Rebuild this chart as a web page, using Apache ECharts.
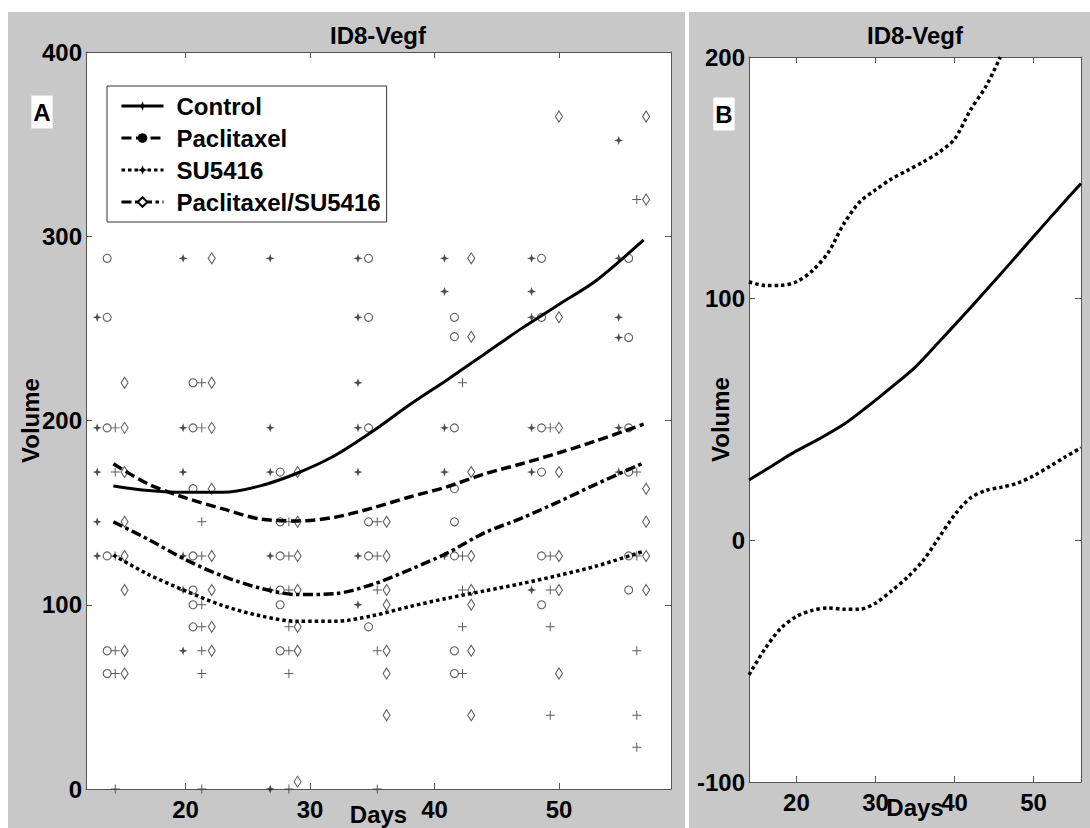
<!DOCTYPE html>
<html><head><meta charset="utf-8">
<script src="https://cdn.jsdelivr.net/npm/echarts@6/dist/echarts.min.js"></script>
<style>
html,body{margin:0;padding:0;background:#fff;}
#wrap{position:relative;width:1090px;height:828px;overflow:hidden;}
.bg{position:absolute;background:#c8c8c8;}
#chart{position:absolute;left:0;top:0;width:1090px;height:828px;}
</style></head>
<body><div id="wrap">
<div class="bg" style="left:8px;top:12px;width:677px;height:816px"></div>
<div class="bg" style="left:689px;top:12px;width:401px;height:816px"></div>
<div id="chart"></div></div>
<script>
// ---------- data ----------
const seriesNames = ['Control', 'Paclitaxel', 'SU5416', 'Paclitaxel/SU5416'];

const controlDays = [12.9, 19.8, 26.8, 33.85, 40.8, 47.8, 54.8];
const controlVolumes = [
  [256, 196, 172, 145, 126.5],
  [288, 196, 172, 126.5, 108, 75],
  [288, 196, 172, 126.5, 108, 0],
  [288, 256, 220.5, 196, 172, 126.5, 100],
  [288, 270, 196, 172, 126.5],
  [288, 270, 256, 196, 172, 108],
  [352, 288, 256, 245, 196, 172]
];
const paclitaxelDays = [13.7, 20.6, 27.6, 34.7, 41.6, 48.6, 55.6];
const paclitaxelVolumes = [
  [288, 256, 196, 126.5, 75, 62.7],
  [220.5, 196, 163, 126.5, 108, 100, 88],
  [172, 145, 126.5, 108, 100, 75],
  [288, 256, 196, 145, 126.5, 88],
  [256, 245.5, 196, 163, 145, 126.5, 75, 62.7],
  [288, 256, 196, 172, 126.5, 100],
  [288, 245, 196, 172, 126.5, 108]
];
const su5416Days = [14.35, 21.3, 28.3, 35.4, 42.25, 49.3, 56.25];
const su5416Volumes = [
  [196, 172, 126.5, 75, 62.7, 0],
  [220.5, 196, 145, 126.5, 100, 88, 75, 62.7, 0],
  [145, 126.5, 108, 88, 75, 62.7, 0],
  [145, 126.5, 108, 75, 0],
  [220.5, 126.5, 108, 88, 62.7],
  [196, 126.5, 108, 88, 40],
  [320, 172, 126.5, 75, 40, 22.6]
];
const comboDays = [15.1, 22.1, 29.0, 36.15, 42.95, 50.0, 57.0];
const comboVolumes = [
  [220.5, 196, 172, 145, 126.5, 108, 75, 62.7],
  [288, 220.5, 196, 163, 126.5, 108, 88, 75],
  [172, 145, 126.5, 108, 88, 75, 4],
  [145, 126.5, 108, 100, 75, 62.7, 40],
  [288, 245.5, 172, 126.5, 108, 100, 75, 40],
  [365, 256, 196, 172, 126.5, 108, 62.7],
  [365, 320, 163, 145, 126.5, 108]
];

// fitted curves, panel A
const fitDaysA     = [14.2, 17, 20, 23, 26, 29, 32, 35, 38, 41, 44, 47, 50, 53, 56.8];
const controlFit   = [164.5, 162, 161, 161, 164.5, 171.5, 181, 194, 208.5, 222, 236, 250, 263, 276, 298];
const paclitaxelFit= [176.5, 165.5, 158, 152, 146.5, 145.5, 147.5, 152.5, 158.5, 164, 171, 176.5, 182.5, 189, 198];
const su5416Fit    = [127, 116.5, 107.5, 99.5, 94, 91, 91, 94, 99, 103.5, 107.5, 111.5, 116, 121, 129];
const comboFit     = [145, 135.5, 124.5, 115.5, 109, 105.5, 106, 111, 119, 128, 139, 147, 156, 165.5, 177];

// panel B
const daysBMean  = [14, 17, 20, 23, 26, 29, 32, 35, 38, 41, 44, 47, 50, 53, 56];
const meanB      = [25, 31, 37, 42.2, 48, 55.4, 63.3, 71.6, 82, 92.6, 103.5, 114.5, 125.7, 136.8, 147.7];
const daysBUpper = [14, 16, 18, 20, 22, 24, 26, 28, 30, 32, 34, 36, 38, 40, 42, 44, 45.8];
const upperB     = [107, 105.5, 105.5, 107, 111.5, 119, 131, 140, 145, 149.5, 153, 156.5, 160.5, 166, 178, 188, 200];
const daysBLower = [14, 16, 18, 20, 22, 24, 26, 28, 30, 32, 34, 36, 38, 40, 42, 44, 46, 48, 50, 52, 54, 56];
const lowerB     = [-55.7, -45, -36.5, -31.5, -29, -28, -28.5, -28.5, -26, -21, -15.4, -8.5, 1, 10.5, 17.5, 20.7, 22, 23.7, 26.7, 30.5, 34.5, 38.3];

const xTicksA = {min: 12, max: 59};
const yTicksA = {min: 0, max: 400, interval: 100};
const xTicksB = {min: 14, max: 56};
const yTicksB = {min: -100, max: 200, interval: 100};

// ---------- build ----------
const FF = "'Liberation Sans', Arial, sans-serif";
const STAR = 'path://M0,-5L1.3,-1.3L5,0L1.3,1.3L0,5L-1.3,1.3L-5,0L-1.3,-1.3Z';
const PLUS = 'path://M-0.55,-5H0.55V-0.55H5V0.55H0.55V5H-0.55V0.55H-5V-0.55H-0.55Z';
const pts = (days, vols) => days.flatMap((d, i) => vols[i].map(v => [d, v]));
const pairs = (xs, ys) => xs.map((x, i) => [x, ys[i]]);

const axLine = {color: '#555', width: 1};
const labelStyle = {fontSize: 24, fontWeight: 'bold', color: '#000', fontFamily: FF};

function xAxes(grid, t, nameGap) {
  return [
    {gridIndex: grid, type: 'value', min: t.min, max: t.max, position: 'bottom',
     axisLine: {show: true, onZero: false, lineStyle: axLine},
     axisTick: {show: true, inside: true, length: 6, lineStyle: axLine},
     splitLine: {show: false},
     axisLabel: Object.assign({margin: 8, showMinLabel: false, showMaxLabel: false}, labelStyle),
     name: 'Days', nameLocation: 'middle', nameGap: nameGap, nameMoveOverlap: false,
     nameTextStyle: Object.assign({lineHeight: 24}, labelStyle)},
    {gridIndex: grid, type: 'value', min: t.min, max: t.max, position: 'top',
     axisLine: {show: true, onZero: false, lineStyle: axLine},
     axisTick: {show: true, inside: true, length: 6, lineStyle: axLine},
     splitLine: {show: false}, axisLabel: {show: false}}
  ];
}
function yAxes(grid, t, nameGap) {
  return [
    {gridIndex: grid, type: 'value', min: t.min, max: t.max, interval: t.interval, position: 'left',
     axisLine: {show: true, onZero: false, lineStyle: axLine},
     axisTick: {show: true, inside: true, length: 6, lineStyle: axLine},
     splitLine: {show: false},
     axisLabel: Object.assign({margin: 4}, labelStyle),
     name: 'Volume', nameLocation: 'middle', nameRotate: 90, nameGap: nameGap, nameMoveOverlap: false, nameTextStyle: labelStyle},
    {gridIndex: grid, type: 'value', min: t.min, max: t.max, interval: t.interval, position: 'right',
     axisLine: {show: true, onZero: false, lineStyle: axLine},
     axisTick: {show: true, inside: true, length: 6, lineStyle: axLine},
     splitLine: {show: false}, axisLabel: {show: false}}
  ];
}

function scatter(name, data, symbol, size, style) {
  return {type: 'scatter', name: name, xAxisIndex: 0, yAxisIndex: 0, data: data,
    symbol: symbol, symbolSize: size, itemStyle: style, z: 2, silent: true};
}
function fitLine(name, data, dash, width, symbol, xi, yi) {
  return {type: 'line', name: name, xAxisIndex: xi, yAxisIndex: yi, data: data,
    smooth: 0.3, showSymbol: false, symbol: symbol, symbolSize: 9,
    itemStyle: {color: '#000'},
    lineStyle: {color: '#000', width: width, type: dash, cap: 'butt'}, z: 5, silent: true};
}

const option = {
  animation: false,
  backgroundColor: 'transparent',
  grid: [
    {left: 86, top: 52, width: 585, height: 737, show: true, backgroundColor: '#fff', borderWidth: 0, outerBoundsMode: 'none', containLabel: false},
    {left: 749, top: 57, width: 332, height: 725, show: true, backgroundColor: '#fff', borderWidth: 0, outerBoundsMode: 'none', containLabel: false}
  ],
  xAxis: xAxes(0, xTicksA, 13).concat(xAxes(1, xTicksB, 13)),
  yAxis: yAxes(0, yTicksA, 44).concat(yAxes(1, yTicksB, 17)),
  legend: {
    data: seriesNames, orient: 'vertical', left: 107, top: 86,
    padding: [8, 6, 8, 13], itemGap: 8, itemWidth: 42, itemHeight: 12,
    backgroundColor: '#fff', borderColor: '#333', borderWidth: 1, borderRadius: 0,
    selectedMode: false, lineStyle: {width: 3},
    textStyle: {fontSize: 24, fontWeight: 'bold', color: '#000', fontFamily: FF, lineHeight: 24, padding: [0, 0, 0, 8]}
  },
  graphic: [
    {type: 'text', x: 378, y: 35, style: {text: 'ID8-Vegf', fill: '#000', font: 'bold 24px ' + FF, align: 'center', verticalAlign: 'middle'}},
    {type: 'text', x: 915, y: 35, style: {text: 'ID8-Vegf', fill: '#000', font: 'bold 24px ' + FF, align: 'center', verticalAlign: 'middle'}},
    {type: 'text', x: 42, y: 112, style: {text: 'A', fill: '#000', font: 'bold 24px ' + FF, align: 'center', verticalAlign: 'middle', backgroundColor: '#fff', padding: [5, 2, 4, 2]}},
    {type: 'text', x: 724, y: 114, style: {text: 'B', fill: '#000', font: 'bold 24px ' + FF, align: 'center', verticalAlign: 'middle', backgroundColor: '#fff', padding: [5, 2, 4, 2]}}
  ],
  series: [
    scatter('Control data', pts(controlDays, controlVolumes), STAR, 9, {color: '#222'}),
    scatter('Paclitaxel data', pts(paclitaxelDays, paclitaxelVolumes), 'circle', 8, {color: 'rgba(0,0,0,0)', borderColor: '#333', borderWidth: 1.1}),
    scatter('SU5416 data', pts(su5416Days, su5416Volumes), PLUS, 9, {color: '#333'}),
    scatter('Paclitaxel/SU5416 data', pts(comboDays, comboVolumes), 'diamond', [7, 11], {color: 'rgba(0,0,0,0)', borderColor: '#333', borderWidth: 1.1}),
    fitLine('Control', pairs(fitDaysA, controlFit), 'solid', 3, STAR, 0, 0),
    fitLine('Paclitaxel', pairs(fitDaysA, paclitaxelFit), [10, 4.5], 3.5, 'circle', 0, 0),
    fitLine('SU5416', pairs(fitDaysA, su5416Fit), [3.5, 3], 3.5, STAR, 0, 0),
    fitLine('Paclitaxel/SU5416', pairs(fitDaysA, comboFit), [10, 3.5, 3.5, 3.5], 3.5, 'emptyDiamond', 0, 0),
    fitLine('B mean', pairs(daysBMean, meanB), 'solid', 3, 'none', 2, 2),
    fitLine('B upper', pairs(daysBUpper, upperB), [3.5, 3], 3.5, 'none', 2, 2),
    fitLine('B lower', pairs(daysBLower, lowerB), [3.5, 3], 3.5, 'none', 2, 2)
  ]
};

const chart = echarts.init(document.getElementById('chart'), null, {renderer: 'svg', width: 1090, height: 828});
chart.setOption(option);
</script>
</body></html>
